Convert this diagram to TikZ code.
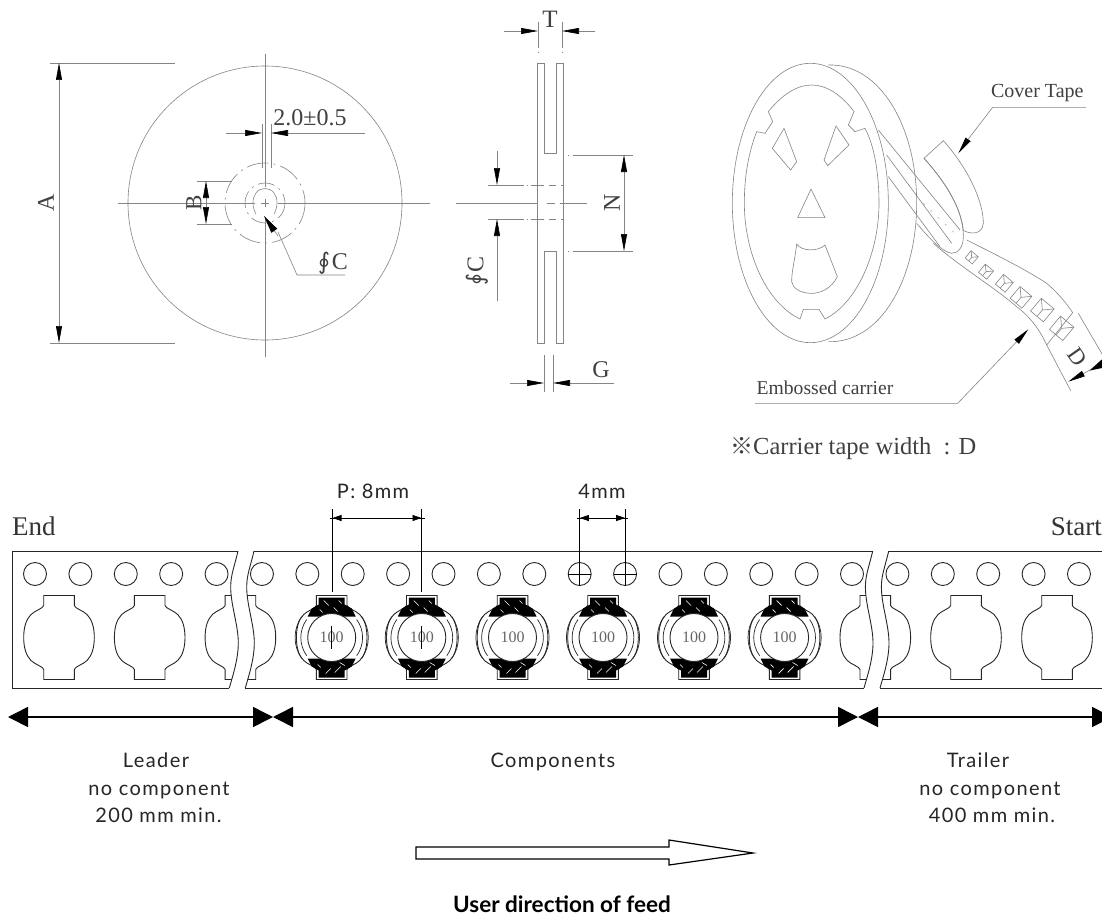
\documentclass[tikz,border=0pt]{standalone}
\usepackage{fontspec}
\setmainfont{Liberation Serif}
\setsansfont{Lato}
\newfontfamily\symfont{DejaVu Sans}
\newfontfamily\cjkfont{Noto Sans CJK JP}
\newfontfamily\spacedsans[LetterSpace=7]{Lato}
\usetikzlibrary{arrows.meta}
\tikzset{
  thin line/.style={draw=black!48,line width=0.6pt},
  dim arrow/.style={draw=black!48,line width=0.6pt,-{Triangle[length=17pt,width=6pt,black]}},
  dim arrows/.style={draw=black!48,line width=0.6pt,{Triangle[length=17pt,width=6pt,black]}-{Triangle[length=17pt,width=6pt,black]}},
  lab/.style={text=black!75,inner sep=0pt},
  tape/.style={draw=black!85,line width=0.9pt},
  bigarrow/.style={draw=black,line width=1.6pt,{Triangle[length=20pt,width=20pt]}-{Triangle[length=20pt,width=20pt]}},
  sanslab/.style={font=\spacedsans\fontsize{20}{22}\selectfont,text=black!85,inner sep=0pt,anchor=base},
  pitch/.style={draw=black,line width=0.8pt},
  pitcharrow/.style={draw=black,line width=0.8pt,{Triangle[length=9pt,width=6pt]}-{Triangle[length=9pt,width=6pt]}}
}
\newcommand\serifat[1]{\fontsize{#1}{#1}\selectfont}
\newcommand\brkpath[1]{({#1+238},551) .. controls ({#1+234},568) and ({#1+230.7},575) .. ({#1+230.7},587) .. controls ({#1+230.7},605) and ({#1+238.3},625) .. ({#1+238.3},643) .. controls ({#1+238.3},660) and ({#1+232},678) .. ({#1+229.3},688)}
\def\pocketshape{(-15.3,-42) -- (15.3,-42) -- (15.3,-32) .. controls (16,-29) and (24,-27) .. (28,-23) .. controls (33,-18) and (35.3,-10) .. (35.3,0) .. controls (35.3,10) and (33,18) .. (28,23) .. controls (24,27) and (16,29) .. (15.3,32) -- (15.3,42) -- (-15.3,42) -- (-15.3,32) .. controls (-16,29) and (-24,27) .. (-28,23) .. controls (-33,18) and (-35.3,10) .. (-35.3,0) .. controls (-35.3,-10) and (-33,-18) .. (-28,-23) .. controls (-24,-27) and (-16,-29) .. (-15.3,-32) -- cycle}
\newcommand\tapecontents{%
  \foreach \k in {0,...,23}{\draw[tape] ({35+45.39*\k},574) circle (11.5);}
  \foreach \cx in {59,149.7,240.4,875.3,966,1057}{\draw[tape,shift={(\cx,637.5)}] \pocketshape;}
  \foreach \cx in {331.7,421.8,512.5,603,694,784.6}{
    \begin{scope}[shift={(\cx,637.5)}]
      \draw[tape] \pocketshape;
      \draw[tape,line width=0.7pt] (-30,-21) arc[start angle=-145,end angle=-215,radius=36.6];
      \draw[tape,line width=0.7pt] (30,-21) arc[start angle=-35,end angle=35,radius=36.6];
      \draw[tape,line width=0.7pt] (-25,-18) arc[start angle=-144,end angle=-216,radius=30.8];
      \draw[tape,line width=0.7pt] (25,-18) arc[start angle=-36,end angle=36,radius=30.8];
      \fill[black] (-13,-40) -- (13,-40) -- (13,-33) -- (20,-29) -- (24,-21) -- (-24,-21) -- (-20,-29) -- (-13,-33) -- cycle;
      \fill[black] (-13,40) -- (13,40) -- (13,33) -- (20,29) -- (24,21) -- (-24,21) -- (-20,29) -- (-13,33) -- cycle;
      \draw[white,line width=0.6pt] (-8,-37) -- (-3,-32) (2,-30) -- (6,-26) (-12,-28) -- (-9,-25) (7,-37) -- (10,-34) (-6,36) -- (-1,31) (3,35) -- (9,29) (-11,30) -- (-14,27) (8,25) -- (13,28);
      \draw[tape,fill=white] (0,0) circle (24);
      \node[lab,text=black!60] at (0,0) {\serifat{16}100};
    \end{scope}}
}
\begin{document}
\begin{tikzpicture}[x=1pt,y=-1pt]
\clip (0,0) rectangle (1102,915);
\fill[white] (0,0) rectangle (1102,915);

% ---------- front view of reel
\draw[thin line] (265,203) circle (137);
\draw[thin line] (118,203) -- (255,203) (278,203) -- (420,203);
\draw[thin line] (265,54) -- (265,187) (265,217) -- (265,357);
\draw[thin line] (261,203) -- (269,203) (265,199) -- (265,207);
\draw[thin line,dash pattern=on 22pt off 5pt on 2pt off 5pt] (265,203) circle (40);
\draw[thin line,dash pattern=on 17pt off 5pt on 2pt off 5pt] (265,203) circle (20);
\draw[thin line] (256,214) .. controls (252,207) and (252,198) .. (256,193) .. controls (260,187) and (270,187) .. (274,193) .. controls (278,198) and (278,207) .. (274,214);
% A
\draw[thin line] (50,63) -- (175,63);
\draw[thin line] (50,343) -- (175,343);
\draw[dim arrows] (59,63) -- (59,343);
\node[lab,rotate=90] (labA) at (46,203) {\serifat{24}A};
% 2.0
\draw[thin line] (262,124) -- (262,168);
\draw[thin line] (271,124) -- (271,168);
\draw[dim arrow] (226,133) -- (262,133);
\draw[dim arrow] (365,133) -- (271,133);
\node[lab] (labTwo) at (310,118) {\serifat{24}2.0±0.5};
% B
\draw[thin line] (197,181) -- (232,181);
\draw[thin line] (197,224) -- (232,224);
\draw[dim arrows] (206,181) -- (206,224);
\node[lab,rotate=90] (labB) at (194,203) {\serifat{23}B};
% phi C
\node[lab,anchor=base] (labC) at (333,269) {{\symfont\serifat{23}∮}\,\serifat{24}C};
\draw[thin line] (345,275) -- (297,275) -- (278,232);
\draw[draw=black!48,line width=0.6pt,-{Triangle[length=18pt,width=7pt,black]}] (278,236) -- (264,216);

% ---------- side view
\draw[thin line] (544,153) -- (544,63) -- (537,63) -- (537,343) -- (544,343) -- (544,251) -- (556,251) -- (556,343) -- (563,343) -- (563,63) -- (556,63) -- (556,153) -- cycle;
\draw[thin line] (420,203) -- (430,203) (456,203) -- (537,203) (547,203) -- (555,203) (560,203) -- (587,203);
\draw[thin line,dash pattern=on 7pt off 5pt] (537,185) -- (563,185);
\draw[thin line,dash pattern=on 7pt off 5pt] (537,219) -- (563,219);
\draw[thin line,dash pattern=on 36pt off 3pt on 1pt off 3pt] (488,185) -- (537,185);
\draw[thin line,dash pattern=on 36pt off 3pt on 1pt off 3pt] (488,219) -- (537,219);
\draw[dim arrow] (497,151) -- (497,185);
\draw[dim arrow] (497,301) -- (497,219);
\node[lab,rotate=90] (labCb) at (477,271) {{\symfont\serifat{23}∮}\,\serifat{24}C};
% T
\draw[thin line,dash pattern=on 26pt off 4pt on 1pt off 3pt] (538,22) -- (538,54);
\draw[thin line,dash pattern=on 26pt off 4pt on 1pt off 3pt] (562,22) -- (562,54);
\draw[dim arrow] (504,31) -- (538,31);
\draw[dim arrow] (595,31) -- (562,31);
\node[lab] (labT) at (550,19) {\serifat{25}T};
% N
\draw[thin line,dash pattern=on 1pt off 4pt on 60pt] (568,155) -- (633,155);
\draw[thin line,dash pattern=on 1pt off 4pt on 60pt] (568,251) -- (633,251);
\draw[dim arrows] (624,155) -- (624,251);
\node[lab,rotate=90] (labN) at (612,203) {\serifat{24}N};
% G
\draw[thin line] (544,355) -- (544,392);
\draw[thin line] (553,355) -- (553,392);
\draw[dim arrow] (510,383) -- (544,383);
\draw[dim arrow] (614,383) -- (553,383);
\node[lab] (labG) at (601,370) {\serifat{24}G};

% ---------- perspective reel
\begin{scope}[shift={(700,20)},x=0.33333pt,y=-0.33333pt]
  \draw[thin line] (331,549) ellipse [x radius=234,y radius=419];
  \draw[thin line] (385,135) .. controls (540,130) and (650,320) .. (650,549) .. controls (650,780) and (540,970) .. (385,965);
  \draw[thin line] (205,275) .. controls (245,225) and (290,195) .. (335,195) .. controls (380,195) and (425,225) .. (462,275) -- (445,315) -- (465,335) -- (495,325) .. controls (525,380) and (537,470) .. (537,549) .. controls (537,700) and (470,850) .. (375,897) -- (357,868) -- (310,868) -- (300,897) .. controls (200,850) and (133,700) .. (133,549) .. controls (133,470) and (145,400) .. (170,335) -- (195,340) -- (218,305) -- cycle;
  \draw[thin line] (252,325) -- (290,425) -- (272,450) -- (217,385) -- cycle;
  \draw[thin line] (408,318) -- (447,375) -- (383,437) -- (372,420) -- cycle;
  \draw[thin line] (333,507) -- (375,593) -- (293,593) -- cycle;
  \draw[thin line] (290,672) .. controls (305,695) and (355,695) .. (375,675) -- (412,770) .. controls (395,805) and (360,822) .. (330,820) .. controls (300,818) and (278,805) .. (275,785) .. controls (275,750) and (285,720) .. (290,672) -- cycle;
  % tape
  \draw[thin line] (700,670) .. controls (780,740) and (880,800) .. (950,860) .. controls (990,890) and (1020,930) .. (1040,975);
  \draw[thin line] (800,660) .. controls (880,700) and (980,750) .. (1040,790) .. controls (1070,815) and (1100,850) .. (1118,878) -- (1040,975);
  \draw[thin line] (1040,975) -- (1112,1112);
  \draw[thin line] (1135,880) -- (1240,1060);
  % cover tape
  \draw[thin line,fill=white] (672,415) -- (730,362) .. controls (800,440) and (850,540) .. (850,610) .. controls (850,630) and (830,650) .. (790,632) .. controls (785,570) and (740,490) .. (672,415);
  \draw[thin line] (672,415) .. controls (740,490) and (790,570) .. (790,650) .. controls (790,680) and (775,700) .. (755,700) .. controls (730,695) and (700,670) .. (650,610);
  \draw[thin line] (535,330) -- (780,630);
  \draw[thin line] (560,405) -- (755,670);
  \draw[thin line] (565,470) -- (720,680);
  \draw[draw=black!30,line width=0.6pt,dash pattern=on 2pt off 8pt] (670,550) -- (770,645);
  % components on the tape
  \foreach \px/\py/\sz in {815/712/14,858/755/16,913/790/19,963/832/23,1027/870/25,1085/925/26}{
    \begin{scope}[shift={(\px,\py)},rotate=-40]
      \draw[thin line] (-\sz,-\sz) rectangle (\sz,\sz);
      \draw[thin line] (-\sz,-\sz) -- (0,0) -- (\sz,-\sz) (0,0) -- (0,\sz);
    \end{scope}}
  % D
  \draw[draw=black!48,line width=0.6pt,-{Triangle[length=17pt,width=6pt,black]}] (1170,1050) -- (1105,1085);
  \fill[black] (1168,1052) -- (1206,1018) -- (1206,1044) -- cycle;
  \node[lab,rotate=-55] (labD) at (1131,1012) {\serifat{23}D};
  % cover tape leader
  \node[lab] (labCover) at (1012,220) {\serifat{20}Cover Tape};
  \draw[thin line] (1158,262) -- (878,262) -- (805,357);
  \draw[dim arrow] (805,357) -- (775,400);
  % embossed leader
  \node[lab] (labEmb) at (375,1103) {\serifat{19.6}Embossed carrier};
  \draw[thin line] (165,1150) -- (773,1150) -- (950,965);
  \draw[dim arrow] (950,965) -- (985,928);
  \node[lab,anchor=west] (labWidth) at (90,1285) {{\cjkfont\serifat{23}※}\serifat{24.5}Carrier tape width\ \ : D};
\end{scope}

% ---------- carrier tape strip
\node[inner sep=0pt,anchor=base west,text=black!80] (labEnd) at (12,535) {\serifat{27}End};
\node[inner sep=0pt,anchor=base east,text=black!80] (labStart) at (1102,535) {\serifat{27}Start};

\begin{scope}
  \clip (12.5,551) -- \brkpath{0} -- (12.5,688) -- cycle;
  \tapecontents
\end{scope}
\begin{scope}
  \clip \brkpath{16} -- (1102,688) -- (1102,551) -- cycle;
  \clip (240,551) -- \brkpath{634.7} -- (240,688) -- cycle;
  \tapecontents
\end{scope}
\begin{scope}
  \clip \brkpath{650.7} -- (1110,688) -- (1110,551) -- cycle;
  \tapecontents
\end{scope}
\draw[tape] (238,551) -- (12.5,551) -- (12.5,688) -- (229.3,688);
\draw[tape] \brkpath{0};
\draw[tape] \brkpath{16};
\draw[tape] (254,551) -- (872.7,551);
\draw[tape] (245.3,688) -- (864,688);
\draw[tape] \brkpath{634.7};
\draw[tape] \brkpath{650.7};
\draw[tape] (888.7,551) -- (1102,551);
\draw[tape] (880,688) -- (1102,688);

% pitch dimension
\draw[pitch] (332.5,509) -- (332.5,592);
\draw[pitch] (421.5,509) -- (421.5,592);
\draw[pitch] (331.7,626) -- (331.7,649);
\draw[pitch] (421.8,626) -- (421.8,649);
\draw[pitch] (330,518) -- (424.5,518);
\draw[pitcharrow] (332.5,518) -- (421.5,518);
\node[sanslab] (labP) at (373,498) {P: 8mm};
% 4mm
\draw[pitch] (579.8,509) -- (579.8,586);
\draw[pitch] (625.2,509) -- (625.2,586);
\draw[pitch] (568.3,574) -- (591.3,574);
\draw[pitch] (613.7,574) -- (636.7,574);
\draw[pitch] (577,518) -- (628,518);
\draw[pitcharrow] (579.8,518) -- (625.2,518);
\node[sanslab] (labFour) at (602,498) {4mm};

% big arrows
\coordinate (bigL) at (8,717);
\coordinate (bigA) at (273,717);
\coordinate (bigB) at (858,717);
\coordinate (bigR) at (1112,717);
\draw[bigarrow] (bigL) -- (bigA);
\draw[bigarrow] (bigA) -- (bigB);
\draw[bigarrow] (bigB) -- (bigR);

\node[sanslab] (labLeaderA) at (156,767) {Leader};
\node[sanslab] (labLeaderB) at (159,795) {no component};
\node[sanslab] (labLeaderC) at (158.5,822) {200 mm min.};
\node[sanslab] (labComp) at (553,767) {Components};
\node[sanslab] (labTrailerA) at (978,767) {Trailer};
\node[sanslab] (labTrailerB) at (990,795) {no component};
\node[sanslab] (labTrailerC) at (992,822) {400 mm min.};

% feed arrow
\draw[draw=black,line width=1.2pt] (416,847) -- (669,847) -- (669,840) -- (753,853) -- (669,865) -- (669,859) -- (416,859) -- cycle;
\node[inner sep=0pt,font=\sffamily\bfseries\fontsize{22.5}{24}\selectfont,text=black] (labFeed) at (562,904) {User direction of feed};
\end{tikzpicture}
\end{document}
